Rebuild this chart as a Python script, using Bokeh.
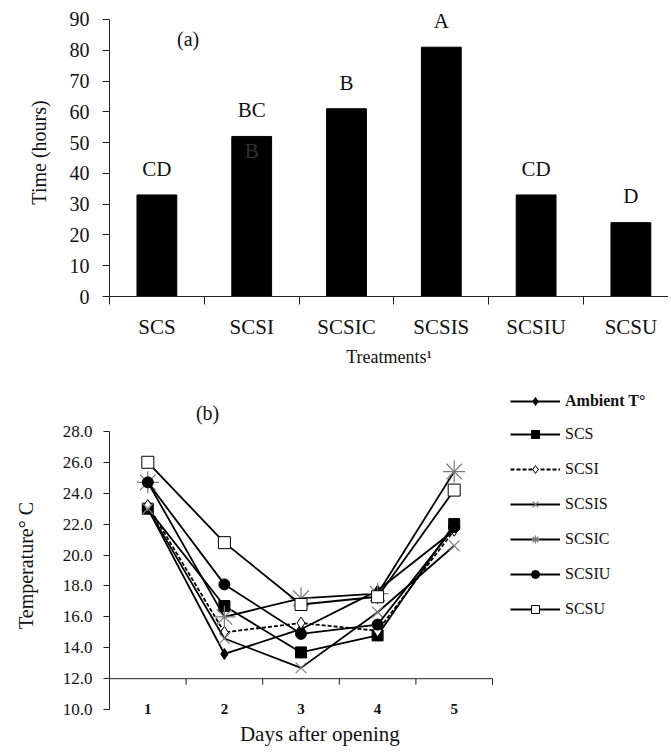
from bokeh.plotting import figure
from bokeh.models import (Range1d, FixedTicker, Label, Legend, LegendItem,
                          NumeralTickFormatter, ColumnDataSource)
from bokeh.layouts import column
from bokeh.embed import file_html
from bokeh.resources import INLINE
from bokeh.core.properties import value
import numpy as np

# ---------------- data ----------------
treatments = ["SCS", "SCSI", "SCSIC", "SCSIS", "SCSIU", "SCSU"]
hours = [33, 52, 61, 81, 33, 24]
letters = ["CD", "BC", "B", "A", "CD", "D"]

days = ["1", "2", "3", "4", "5"]
ambient = [23.0, 13.6, 15.2, 17.7, 21.6]
scs = [23.0, 16.7, 13.7, 14.8, 22.0]
scsi = [23.2, 15.0, 15.6, 15.1, 21.6]
scsis = [23.0, 14.6, 12.7, 16.3, 20.6]
scsic = [24.7, 16.0, 17.2, 17.5, 25.4]
scsiu = [24.7, 18.1, 14.9, 15.5, 21.8]
scsu = [26.0, 20.8, 16.8, 17.3, 24.2]

FONT = "Liberation Serif"
AXIS_CROSS = 12.0
YA_MAX = 90
YB_MIN, YB_MAX = 10, 28

# ---------------- panel (a) ----------------
xa = np.arange(len(treatments)) + 0.5
pa = figure(frame_width=559, frame_height=288, min_border_left=109, min_border_right=0,
            min_border_top=8, min_border_bottom=84,
            x_range=Range1d(0, 559 / 94.8), y_range=Range1d(0, YA_MAX + 3.57),
            output_backend="svg", toolbar_location=None)
pa.grid.visible = False
pa.outline_line_color = None

src_a = ColumnDataSource(dict(x=xa, top=hours, lab=letters,
                              ly=np.array(hours) + 8.5, name=treatments))
pa.vbar(x="x", top="top", width=0.42, source=src_a, fill_color="black", line_color="black")
pa.text(x="x", y="ly", text="lab", source=src_a, text_align="center", text_baseline="middle",
        text_font=value(FONT), text_font_size="21px", text_color="#111111")

pa.add_layout(Label(x=xa[1], y=47.4, text="B", text_align="center", text_baseline="middle",
                    text_font=FONT, text_font_size="21px", text_color="#333333"))
pa.add_layout(Label(x=0.83, y=83.5, text="(a)", text_align="center", text_baseline="middle",
                    text_font=FONT, text_font_size="20px", text_color="#111111"))

ya = pa.yaxis[0]
ya.bounds = (0, YA_MAX)
ya.ticker = FixedTicker(ticks=list(range(0, YA_MAX + 1, 10)), minor_ticks=[])
ya.major_tick_out = 7
ya.major_tick_in = 0
ya.major_label_standoff = 13
ya.major_label_text_font = FONT
ya.major_label_text_font_size = "20px"
ya.major_label_text_color = "#111111"
ya.axis_label = "Time (hours)"
ya.axis_label_text_font = FONT
ya.axis_label_text_font_size = "20px"
ya.axis_label_text_font_style = "normal"
ya.axis_label_text_color = "#111111"
ya.axis_label_standoff = 17
ya.axis_line_color = "#222222"
ya.major_tick_line_color = "#222222"

xax = pa.xaxis[0]
xax.ticker = FixedTicker(ticks=list(xa), minor_ticks=list(range(0, len(treatments) + 1)))
xax.major_label_overrides = {float(x): t for x, t in zip(xa, treatments)}
xax.major_tick_out = 0
xax.major_tick_in = 0
xax.minor_tick_out = 8
xax.minor_tick_in = 0
xax.minor_tick_line_color = "#222222"
xax.axis_line_color = "#222222"
xax.major_label_standoff = 10
xax.major_label_text_font = FONT
xax.major_label_text_font_size = "21px"
xax.major_label_text_color = "#111111"
xax.axis_label = "Treatments\u00b9"
xax.axis_label_text_font = FONT
xax.axis_label_text_font_size = "18px"
xax.axis_label_text_font_style = "normal"
xax.axis_label_text_color = "#111111"
xax.axis_label_standoff = 5

# ---------------- panel (b) ----------------
xb = np.arange(len(days)) + 0.5
PXB_X, PXB_Y = 76.6, 15.5          # pixels per category / per degree
YB_LOW = YB_MIN - 41 / PXB_Y       # extra room below the value axis for the title
pb = figure(frame_width=559, frame_height=370, min_border_left=109, min_border_right=0,
            min_border_top=0, min_border_bottom=0,
            x_range=Range1d(0, 559 / PXB_X), y_range=Range1d(YB_LOW, YB_MAX + 3.29),
            output_backend="svg", toolbar_location=None)
pb.grid.visible = False
pb.outline_line_color = None

series = [
    ("Ambient T\u00b0", ambient, dict(marker="diamond", size=11, fill_color="black", line_color="black"), "solid"),
    ("SCS", scs, dict(marker="square", size=11, fill_color="black", line_color="black"), "solid"),
    ("SCSI", scsi, dict(marker="diamond", size=12, fill_color="white", line_color="black", line_width=1), "4 2"),
    ("SCSIS", scsis, dict(marker="x", size=15, fill_color=None, line_color="#7a7a7a", line_width=1.2), "solid"),
    ("SCSIC", scsic, dict(marker="asterisk", size=22, fill_color=None, line_color="#7a7a7a", line_width=1.2), "solid"),
    ("SCSIU", scsiu, dict(marker="circle", size=11, fill_color="black", line_color="black"), "solid"),
    ("SCSU", scsu, dict(marker="square", size=12, fill_color="white", line_color="black", line_width=1), "solid"),
]

items = []
for name, vals, mk, dash in series:
    src = ColumnDataSource(dict(x=xb, y=vals))
    lr = pb.line(x="x", y="y", source=src, line_color="black", line_width=1.8, line_dash=dash)
    sr = pb.scatter(x="x", y="y", source=src, **mk)
    items.append(LegendItem(label=name, renderers=[lr, sr]))

# horizontal category axis crossing the value axis at AXIS_CROSS, with boundary ticks
bounds = np.arange(len(days) + 1)
pb.segment(x0=[bounds[0]], y0=[AXIS_CROSS], x1=[bounds[-1]], y1=[AXIS_CROSS],
           line_color="#222222", line_width=1)
tick_len = 6.0 / PXB_Y
pb.segment(x0=bounds, y0=[AXIS_CROSS] * len(bounds), x1=bounds,
           y1=[AXIS_CROSS - tick_len] * len(bounds), line_color="#222222", line_width=1)

def make_legend(its, vy, bold):
    return Legend(items=its, location=(401, vy), orientation="vertical",
                  glyph_width=50, glyph_height=20, label_height=21, label_standoff=5,
                  spacing=14, padding=0, margin=0, border_line_color=None,
                  background_fill_alpha=0,
                  label_text_font=FONT, label_text_font_size="16px",
                  label_text_color="#111111",
                  label_text_font_style="bold" if bold else "normal")

pb.add_layout(make_legend(items[:1], 339, True))
pb.add_layout(make_legend(items[1:], 131, False))

pb.add_layout(Label(x=1.28, y=29.2, text="(b)", text_align="center", text_baseline="middle",
                    text_font=FONT, text_font_size="20px", text_color="#111111"))
pb.add_layout(Label(x=2.78, y=YB_MIN - 24 / PXB_Y, text="Days after  opening",
                    text_align="center", text_baseline="middle",
                    text_font=FONT, text_font_size="21px", text_color="#111111"))

yb = pb.yaxis[0]
yb.bounds = (YB_MIN, YB_MAX)
yb.ticker = FixedTicker(ticks=list(range(YB_MIN, YB_MAX + 1, 2)), minor_ticks=[])
yb.formatter = NumeralTickFormatter(format="0.0")
yb.major_tick_out = 6
yb.major_tick_in = 0
yb.major_label_standoff = 11
yb.major_label_text_font = FONT
yb.major_label_text_font_size = "17px"
yb.major_label_text_color = "#111111"
yb.axis_label = "Temperature\u00b0 C"
yb.axis_label_text_font = FONT
yb.axis_label_text_font_size = "20px"
yb.axis_label_text_font_style = "normal"
yb.axis_label_text_color = "#111111"
yb.axis_label_standoff = 23
yb.axis_line_color = "#222222"
yb.major_tick_line_color = "#222222"

xbx = pb.xaxis[0]
xbx.ticker = FixedTicker(ticks=list(xb), minor_ticks=[])
xbx.major_label_overrides = {float(x): d for x, d in zip(xb, days)}
xbx.axis_line_color = None
xbx.major_tick_line_color = None
xbx.major_tick_out = 0
xbx.major_tick_in = 0
xbx.major_label_standoff = -47
xbx.major_label_text_font = FONT
xbx.major_label_text_font_size = "15px"
xbx.major_label_text_font_style = "bold"
xbx.major_label_text_color = "#111111"

layout = column(pa, pb)
open("out.html", "w").write(file_html(layout, INLINE))
